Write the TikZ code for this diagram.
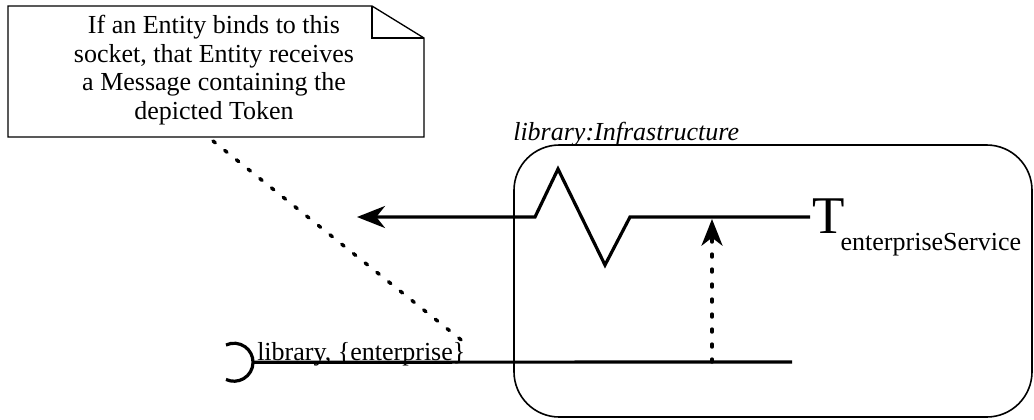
\documentclass[tikz,border=0pt]{standalone}
\usepackage{fontspec}
\setmainfont{Liberation Serif}
\usetikzlibrary{arrows.meta}
\newcommand{\notesize}{\fontsize{19.5pt}{21.4pt}\selectfont}

\begin{document}
\begin{tikzpicture}[
    x=0.75pt, y=-0.75pt,
    wire/.style={line width=2.4pt, line join=miter},
    dotline/.style={line width=2.6pt, line cap=round, dash pattern=on 2.2pt off 9.05pt},
    arrowtip/.style={-{Stealth[length=21pt, width=16.5pt, inset=6.5pt]}},
    notebox/.style={line width=1pt},
    txt/.style={font=\notesize, inner sep=0pt},
    infrabox/.style={draw, line width=1.2pt, rounded corners=34pt, minimum width=388.5pt, minimum height=204pt, inner sep=0pt}
]
\useasboundingbox (0,0) rectangle (1034,419);

% Infrastructure
\node[infrabox] (infra) at (773,281) {};
\node[txt, font=\notesize\itshape, anchor=base west] (infraname) at (513,140) {library:Infrastructure};

% Note
\draw[notebox] (8,6) -- (372,6) -- (424,38) -- (424,137) -- (8,137) -- cycle;
\draw[notebox] (372,6) -- (372,38) -- (424,38);
\node[txt, align=center, anchor=north] (note) at (214,15) {If an Entity binds to this\\socket, that Entity receives\\a Message containing the\\depicted Token};

% Token
\node[inner sep=0pt, anchor=base west, font=\fontsize{39.75pt}{40pt}\selectfont] (token) at (812,233) {T\kern-3pt\raisebox{-12.75pt}{\notesize enterpriseService}};
\coordinate (wireR) at (810,217);
\coordinate (wireL) at (357,217);
\draw[wire, arrowtip] (wireR) -- (630,217) -- (605,265) -- (558,169) -- (535,217) -- (wireL);

% Socket
\coordinate (sockTop) at (226,345);
\draw[wire] (sockTop) arc[start angle=115, end angle=0, radius=14.25pt] coordinate (sockR)
    arc[start angle=0, end angle=-115, radius=14.25pt];
\coordinate (busR) at (792,362);
\draw[wire] (sockR) -- (busR);
\node[txt, anchor=base west] (busname) at (257,360) {library, \{enterprise\}};

% Verbindungen
\coordinate (noteTail) at (213,141);
\coordinate (sockTag) at (465,343);
\draw[dotline] (noteTail) -- (sockTag);
\coordinate (upFrom) at (712,362);
\coordinate (upTo) at (712,219);
\draw[dotline, -{Stealth[length=20pt, width=15.75pt, inset=6pt]}] (upFrom) -- (upTo);

\end{tikzpicture}
\end{document}
